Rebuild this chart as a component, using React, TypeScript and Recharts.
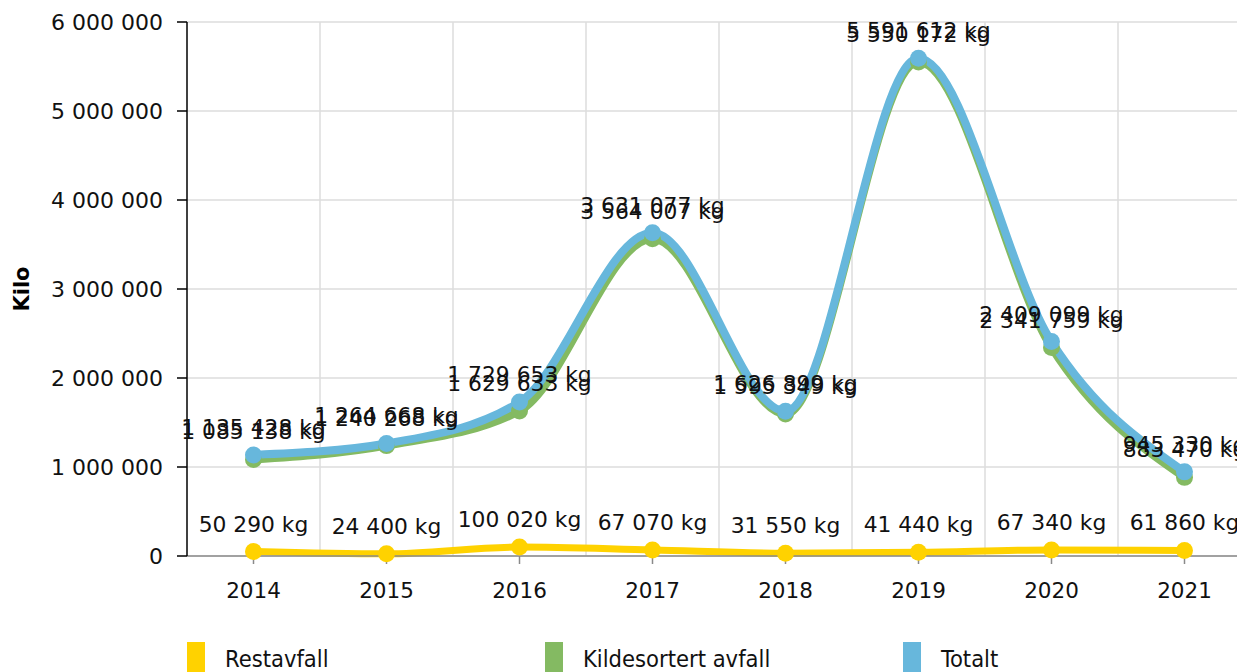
import { LineChart, Line, XAxis, YAxis, CartesianGrid, Legend, LabelList } from 'recharts';

const years = ['2014', '2015', '2016', '2017', '2018', '2019', '2020', '2021'];
const restavfall = [50290, 24400, 100020, 67070, 31550, 41440, 67340, 61860];
const kildesortert = [1085138, 1240268, 1629633, 3564007, 1595349, 5550172, 2341759, 883470];
const totalt = [1135428, 1264668, 1729653, 3631077, 1626899, 5591612, 2409099, 945330];
const yTicks = [0, 1000000, 2000000, 3000000, 4000000, 5000000, 6000000];

const series = [
  { key: 'restavfall', name: 'Restavfall', color: '#ffd200', width: 7 },
  { key: 'kildesortert', name: 'Kildesortert avfall', color: '#84ba62', width: 8 },
  { key: 'totalt', name: 'Totalt', color: '#67b7dc', width: 8 },
];

const data = years.map((year, i) => ({
  year,
  restavfall: restavfall[i],
  kildesortert: kildesortert[i],
  totalt: totalt[i],
}));

const fmt = (v: number) => String(v).replace(/\B(?=(\d{3})+(?!\d))/g, ' ');
const font = 'DejaVu Sans, Verdana, sans-serif';

function LegendBox() {
  return (
    <div style={{ display: 'flex', height: 38, fontFamily: 'DejaVu Sans Condensed, DejaVu Sans, sans-serif', fontSize: 23.5 }}>
      {series.map((s) => (
        <div key={s.key} style={{ width: 358, display: 'flex', alignItems: 'flex-start' }}>
          <div style={{ width: 18, height: 38, background: s.color }} />
          <span style={{ marginLeft: 20, marginTop: 3, color: '#111' }}>{s.name}</span>
        </div>
      ))}
    </div>
  );
}

export default function App() {
  return (
    <div style={{ fontFamily: font }}>
      <LineChart width={1250} height={680} data={data} margin={{ top: 14, right: 7, bottom: 8, left: 0 }}>
        <CartesianGrid
          stroke="#dcdcdc"
          strokeWidth={1.5}
          verticalCoordinatesGenerator={({ offset }: any) =>
            years.slice(1).map((_, k) => offset.left + (offset.width * (k + 1)) / years.length)
          }
        />
        <XAxis
          dataKey="year"
          height={86}
          padding={{ left: 66.5, right: 66.5 }}
          stroke="#8a8a8a"
          strokeWidth={1.5}
          tickSize={8}
          tickMargin={19}
          tick={{ fill: '#111', fontSize: 21.5, fontFamily: font }}
        />
        <YAxis
          width={179}
          domain={[0, 6000000]}
          ticks={yTicks}
          stroke="#000"
          strokeWidth={1.5}
          tickSize={10}
          tickMargin={14}
          tickFormatter={fmt}
          tick={{ fill: '#111', fontSize: 22, fontFamily: font }}
          label={{
            value: 'Kilo',
            angle: -90,
            position: 'insideLeft',
            offset: 14,
            style: { textAnchor: 'middle', fontWeight: 'bold', fontSize: 21, fill: '#000', fontFamily: font },
          }}
        />
        <Legend verticalAlign="bottom" wrapperStyle={{ left: 179, bottom: 8 }} content={() => <LegendBox />} />
        {series.map((s) => (
          <Line
            key={s.key}
            type="monotone"
            dataKey={s.key}
            name={s.name}
            stroke={s.color}
            strokeWidth={s.width}
            dot={{ r: 8.5, fill: s.color, stroke: s.color, strokeWidth: 0 }}
            activeDot={false}
            isAnimationActive={false}
          >
            <LabelList
              dataKey={s.key}
              position="top"
              offset={20}
              formatter={(v: any) => `${fmt(Number(v))} kg`}
              style={{ fill: '#111', fontSize: 21.8, fontFamily: font }}
            />
          </Line>
        ))}
      </LineChart>
    </div>
  );
}
